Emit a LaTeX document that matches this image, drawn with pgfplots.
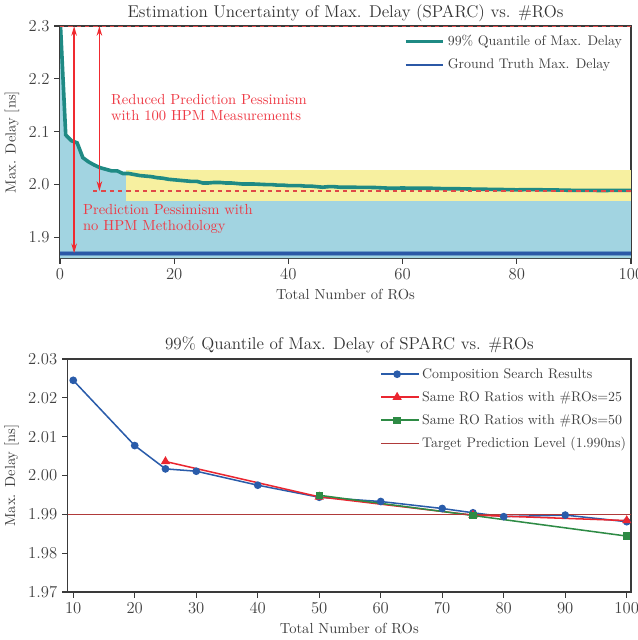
\documentclass[border=0pt]{standalone}
\usepackage{pgfplots}
\pgfplotsset{compat=1.18}
\usetikzlibrary{arrows.meta}
\definecolor{tealc}{HTML}{1F8A84}
\definecolor{fillblue}{HTML}{A2D4E1}
\definecolor{fillyellow}{HTML}{F7F0A0}
\definecolor{gtblue}{HTML}{2B58A6}
\definecolor{gtband}{HTML}{6A9CC8}
\definecolor{annred}{HTML}{EE3A45}
\definecolor{arrred}{HTML}{F02A30}
\definecolor{dashred}{HTML}{E04848}
\definecolor{cblue}{HTML}{2A5CAA}
\definecolor{cred}{HTML}{EA2630}
\definecolor{cgreen}{HTML}{2E8B45}
\definecolor{cdark}{HTML}{B03A3A}
\definecolor{axgray}{HTML}{3A3A3A}
\pgfplotsset{
  myaxis/.style={
    scale only axis,
    axis line style={axgray, line width=0.8pt},
    tick style={axgray, line width=0.8pt},
    tick align=outside, tick pos=left,
    major tick length=4pt,
    ticklabel style={font=\fontsize{11.5}{13}\selectfont, text=black!75},
    label style={font=\fontsize{10.5}{12}\selectfont, text=black!75},
    title style={font=\fontsize{12.3}{14}\selectfont, text=black!80, at={(0.5,1)}, anchor=base, yshift=0.5pt},
    legend style={draw=none, fill=none, font=\fontsize{10}{12}\selectfont, text=black!75, row sep=4pt},
    legend cell align=left,
  },
}
\pgfplotstableread{
x y
0 2.32
1 2.094
2 2.083
3 2.079
4 2.051
5 2.043
6 2.037
7 2.032
8 2.029
9 2.026
10 2.026
11 2.021
12 2.021
13 2.019
14 2.017
15 2.016
16 2.015
17 2.013
18 2.012
19 2.010
20 2.009
21 2.008
22 2.007
23 2.006
24 2.006
25 2.003
26 2.003
27 2.004
28 2.004
29 2.003
30 2.003
31 2.002
32 2.001
33 2.001
34 2.001
35 2.0005
36 2.000
37 2.000
38 1.999
39 1.999
40 1.998
41 1.998
42 1.998
43 1.997
44 1.997
45 1.996
46 1.995
47 1.996
48 1.996
49 1.995
50 1.995
52 1.9948
55 1.9945
58 1.993
60 1.9935
62 1.993
65 1.993
68 1.992
70 1.992
72 1.9915
75 1.991
78 1.9905
80 1.990
82 1.9905
85 1.990
88 1.9895
90 1.989
92 1.989
95 1.9888
98 1.989
100 1.989
}\quantile
\begin{document}
\begin{tikzpicture}
\begin{axis}[myaxis,
  at={(43.2pt,-185.76pt)}, anchor=south west,
  width=411.1pt, height=167pt,
  xmin=0, xmax=100, ymin=1.861, ymax=2.3,
  xtick={0,20,40,60,80,100},
  ytick={1.9,2.0,2.1,2.2,2.3},
  yticklabel style={/pgf/number format/.cd, fixed, fixed zerofill, precision=1},
  title={Estimation Uncertainty of Max. Delay (SPARC) vs. \#ROs},
  xlabel={Total Number of ROs},
  ylabel={Max. Delay [ns]},
  legend style={at={(0.997,0.985)}, anchor=north east},
  legend image code/.code={\draw[#1] (0pt,0pt) -- (25pt,0pt); \path (0pt,0pt) -- (27pt,0pt);},
]
\addplot[fill=fillblue, draw=none, forget plot] table {\quantile} \closedcycle;
\addplot[fill=fillyellow, draw=none, forget plot] coordinates {(11.5,1.969) (100,1.969) (100,2.028) (11.5,2.028)} -- cycle;
\addplot[gtband, line width=3.6pt, forget plot] coordinates {(0,1.870) (100,1.870)};
\addplot[tealc, line width=2.6pt] table {\quantile};
\addlegendentry{99\% Quantile of Max. Delay}
\addplot[gtblue, line width=2pt] coordinates {(0,1.870) (100,1.870)};
\addlegendentry{Ground Truth Max. Delay}
\addplot[dashred, dashed, line width=0.9pt, forget plot] coordinates {(0,2.3) (100,2.3)};
\addplot[dashred, dashed, line width=0.9pt, forget plot] coordinates {(5.8,1.988) (100,1.988)};
\addplot[arrred, line width=1pt, {Stealth[length=7pt,width=4pt]}-{Stealth[length=7pt,width=4pt]}, forget plot] coordinates {(2.47,2.3) (2.47,1.870)};
\addplot[arrred, line width=1pt, {Stealth[length=7pt,width=4pt]}-{Stealth[length=7pt,width=4pt]}, forget plot] coordinates {(6.9,2.3) (6.9,1.988)};
\node[anchor=west, align=left, text=annred, font=\fontsize{10.5}{11.5}\selectfont, inner sep=0pt] at (axis cs:8.9,2.146) {Reduced Prediction Pessimism\\with 100 HPM Measurements};
\node[anchor=west, align=left, text=annred, font=\fontsize{10.5}{11.5}\selectfont, inner sep=0pt] at (axis cs:4.0,1.935) {Prediction Pessimism with\\no HPM Methodology};
\end{axis}
\begin{axis}[myaxis,
  at={(48.74pt,-426.24pt)}, anchor=south west,
  width=405.6pt, height=167.8pt,
  xmin=9.1, xmax=100.7, ymin=1.97, ymax=2.03,
  xtick={10,20,30,40,50,60,70,80,90,100},
  ytick={1.97,1.98,1.99,2.00,2.01,2.02,2.03},
  yticklabel style={/pgf/number format/.cd, fixed, fixed zerofill, precision=2},
  title={99\% Quantile of Max. Delay of SPARC vs. \#ROs},
  xlabel={Total Number of ROs},
  ylabel={Max. Delay [ns]},
  legend style={at={(1.004,0.985)}, anchor=north east},
  legend image code/.code={\draw[mark repeat=2, mark phase=2, #1] plot coordinates {(0pt,0pt) (11.5pt,0pt) (23pt,0pt)}; \path (0pt,0pt) -- (27pt,0pt);},
]
\addplot[cblue, line width=1.1pt, mark=*, mark size=2.2pt] coordinates {
(10,2.0245) (20,2.0077) (25,2.0017) (30,2.0011) (40,1.9975) (50,1.9944) (60,1.9933) (70,1.9915) (75,1.9904) (80,1.9894) (90,1.9898) (100,1.9881)};
\addlegendentry{Composition Search Results}
\addplot[cred, line width=1.1pt, mark=triangle*, mark size=2.8pt] coordinates {
(25,2.0036) (50,1.9945) (75,1.9898) (100,1.9884)};
\addlegendentry{Same RO Ratios with \#ROs=25}
\addplot[cgreen, line width=1.1pt, mark=square*, mark size=2.1pt] coordinates {
(50,1.9949) (75,1.9897) (100,1.9844)};
\addlegendentry{Same RO Ratios with \#ROs=50}
\addplot[cdark, line width=1pt] coordinates {(9.1,1.99) (100.7,1.99)};
\addlegendentry{Target Prediction Level (1.990ns)}
\end{axis}
\pgfresetboundingbox
\path (0pt,0pt) rectangle (458.64pt,-460.8pt);
\end{tikzpicture}
\end{document}
